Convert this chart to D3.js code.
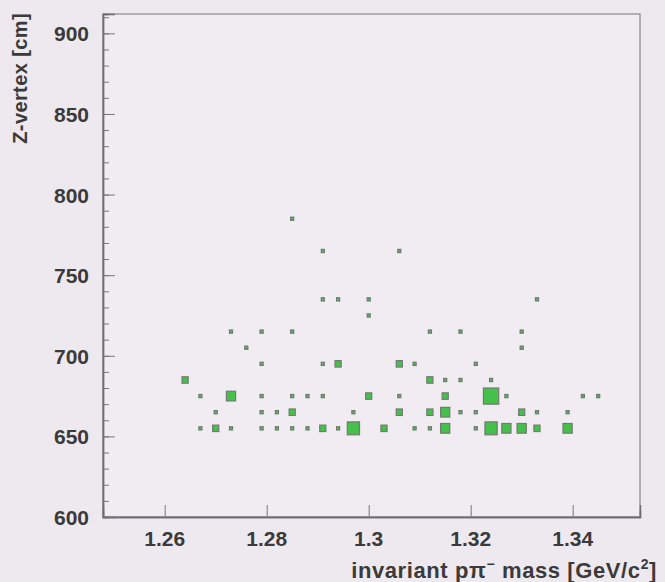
<!DOCTYPE html>
<html>
<head>
<meta charset="utf-8">
<script src="https://cdn.jsdelivr.net/npm/d3@7/dist/d3.min.js"></script>
<style>
  html, body { margin: 0; padding: 0; background: #eee8ef; }
  svg { display: block; }
  text { font-family: "Liberation Sans", Arial, sans-serif; font-weight: bold; fill: #3a3a3a; }
</style>
</head>
<body>
<svg id="chart" width="665" height="582"></svg>
<script>
// ---- data: 2D histogram (BOX) of Z-vertex vs invariant p pi- mass ----
const massCenters = [1.264, 1.267, 1.270, 1.273, 1.276, 1.279, 1.282, 1.285, 1.288, 1.291,
                     1.294, 1.297, 1.300, 1.303, 1.306, 1.309, 1.312, 1.315, 1.318, 1.321,
                     1.324, 1.327, 1.330, 1.333, 1.336, 1.339, 1.342, 1.345];
// each cell: mass bin index, z-vertex bin centre, entries
const cellMassBin = [
  1,2,3,5,6,7,8,9,10,11,13,15,16,17,19,20,21,22,23,25,
  2,5,6,7,11,14,16,17,18,19,22,23,25,
  1,3,5,7,8,9,12,14,17,20,21,26,27,
  0,16,17,18,20,
  5,9,10,14,15,19,
  4,22,
  3,5,7,16,18,22,
  12,
  9,10,12,23,
  9,14,
  7
];
const cellZ = [
  655,655,655,655,655,655,655,655,655,655,655,655,655,655,655,655,655,655,655,655,
  665,665,665,665,665,665,665,665,665,665,665,665,665,
  675,675,675,675,675,675,675,675,675,675,675,675,675,
  685,685,685,685,685,
  695,695,695,695,695,695,
  705,705,
  715,715,715,715,715,715,
  725,
  735,735,735,735,
  765,765,
  785
];
const cellCounts = [
  1,2,1,1,1,1,1,2,1,4,2,1,1,3,1,4,3,3,2,3,
  1,1,1,2,1,2,2,3,1,1,2,1,1,
  1,3,1,1,1,1,2,1,2,5,1,1,1,
  2,2,1,1,1,
  1,1,2,2,1,1,
  1,1,
  1,1,1,1,1,1,
  1,
  1,1,1,1,
  1,1,
  1
];
const massBinWidth = 0.003;
const zBinWidth = 10;
const xTickLabels = [1.26, 1.28, 1.30, 1.32, 1.34];
const yTickLabels = [600, 650, 700, 750, 800, 850, 900];
const xDomain = [1.2479, 1.3532];
const yDomain = [600, 912];

// ---- drawing ----
const svg = d3.select("#chart");
const L = 103, R = 640, T = 14, B = 517;
const x = d3.scaleLinear().domain(xDomain).range([L, R]);
const y = d3.scaleLinear().domain(yDomain).range([B, T]);

// plot frame
svg.append("rect").attr("x", L).attr("y", T).attr("width", R - L).attr("height", B - T)
  .attr("fill", "#f1ecf2").attr("stroke", "#8a868b").attr("stroke-width", 1.2);

// boxes
const maxCount = d3.max(cellCounts);
const bw = x(xDomain[0] + massBinWidth) - x(xDomain[0]);
const bh = y(yDomain[0]) - y(yDomain[0] + zBinWidth);
const cells = cellCounts.map((c, i) => ({ m: massCenters[cellMassBin[i]], z: cellZ[i], c }));
svg.append("g").selectAll("rect").data(cells).join("rect")
  .attr("x", d => x(d.m) - (d.c / maxCount) * bw / 2)
  .attr("y", d => y(d.z) - (d.c / maxCount) * bh / 2)
  .attr("width", d => (d.c / maxCount) * bw)
  .attr("height", d => (d.c / maxCount) * bh)
  .attr("fill", "#45c04a")
  .attr("stroke", "#727a73")
  .attr("stroke-width", 1.2);

// axes (ticks pointing inward)
const xMinor = d3.range(62, 89).map(v => v * 0.004).filter(v => v >= xDomain[0] && v <= xDomain[1]);
const xAxisMinor = d3.axisTop(x).tickValues(xMinor).tickSize(6).tickFormat("");
const xAxisMajor = d3.axisTop(x).tickValues(xTickLabels).tickSize(12).tickFormat("");
const gx1 = svg.append("g").attr("transform", `translate(0,${B})`).call(xAxisMinor);
const gx2 = svg.append("g").attr("transform", `translate(0,${B})`).call(xAxisMajor);
[gx1, gx2].forEach(g => { g.select(".domain").attr("stroke", "#6e6a6f").attr("stroke-width", 1.4);
  g.selectAll(".tick line").attr("stroke", "#7a767b"); });

const yMinor = d3.range(600, 913, 10);
const yAxisMinor = d3.axisRight(y).tickValues(yMinor).tickSize(6).tickFormat("");
const yAxisMajor = d3.axisRight(y).tickValues(yTickLabels).tickSize(12).tickFormat("");
const gy1 = svg.append("g").attr("transform", `translate(${L},0)`).call(yAxisMinor);
const gy2 = svg.append("g").attr("transform", `translate(${L},0)`).call(yAxisMajor);
[gy1, gy2].forEach(g => { g.select(".domain").attr("stroke", "#6e6a6f").attr("stroke-width", 1.4);
  g.selectAll(".tick line").attr("stroke", "#7a767b"); });

// tick labels
svg.append("g").selectAll("text").data(xTickLabels).join("text")
  .attr("x", d => x(d)).attr("y", 546).attr("text-anchor", "middle")
  .attr("font-size", 21).text(d => String(+d.toFixed(2)));
svg.append("g").selectAll("text").data(yTickLabels).join("text")
  .attr("x", 89).attr("y", d => y(d) + 8).attr("text-anchor", "end")
  .attr("font-size", 21).text(d => d);

// axis titles
const xt = svg.append("text").attr("x", 657).attr("y", 578).attr("text-anchor", "end")
  .attr("font-size", 22).attr("letter-spacing", 0.6);
xt.append("tspan").text("invariant p\u03C0");
xt.append("tspan").attr("dy", -9).attr("font-size", 14).text("\u2212");
xt.append("tspan").attr("dy", 9).text(" mass [GeV/c");
xt.append("tspan").attr("dy", -9).attr("font-size", 14).text("2");
xt.append("tspan").attr("dy", 9).text("]");

svg.append("text").attr("transform", "translate(27,13) rotate(-90)")
  .attr("text-anchor", "end").attr("font-size", 20).attr("letter-spacing", 0.4).text("Z-vertex [cm]");
</script>
</body>
</html>
